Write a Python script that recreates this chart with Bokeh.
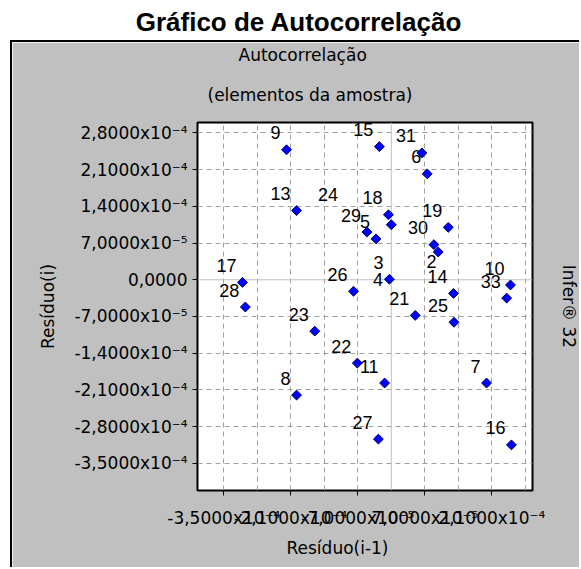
from bokeh.plotting import figure
from bokeh.models import (ColumnDataSource, FixedTicker, Span, Title, Div, CDSView,
                          BooleanFilter, Range1d, LinearAxis)
from bokeh.layouts import column
from bokeh.embed import file_html
from bokeh.resources import INLINE
from bokeh.core.properties import value

# ---------------- data (residuals, in original units) ----------------
rotulos = ["9", "15", "13", "24", "18", "", "29", "5", "17", "28", "26", "3", "4",
           "23", "22", "11", "8", "27", "31", "6", "19", "30", "", "10", "33",
           "14", "21", "25", "7", "16", "2"]
residuo_anterior = [-2.19e-4, -0.25e-4, -1.98e-4, -0.99e-4, -0.06e-4, 0.00e-4, -0.51e-4,
                    -0.32e-4, -3.11e-4, -3.05e-4, -0.79e-4, -0.04e-4, -0.05e-4,
                    -1.60e-4, -0.71e-4, -0.14e-4, -1.98e-4, -0.27e-4, 0.64e-4, 0.75e-4,
                    1.19e-4, 0.89e-4, 0.98e-4, 2.49e-4, 2.41e-4, 1.30e-4, 0.50e-4,
                    1.31e-4, 1.99e-4, 2.51e-4, 1.07e-4]
residuo_atual = [2.48e-4, 2.54e-4, 1.32e-4, 1.30e-4, 1.24e-4, 1.05e-4, 0.91e-4, 0.78e-4,
                 -0.05e-4, -0.52e-4, -0.22e-4, 0.01e-4, -0.32e-4, -0.98e-4, -1.59e-4,
                 -1.97e-4, -2.20e-4, -3.04e-4, 2.42e-4, 2.02e-4, 1.00e-4, 0.67e-4,
                 0.53e-4, -0.10e-4, -0.35e-4, -0.26e-4, -0.68e-4, -0.81e-4, -1.97e-4,
                 -3.15e-4, 0.02e-4]
marcador_visivel = [True, True, True, False, True, True, True, True, True, True, True,
                    True, False, True, True, True, True, True, True, True, True, True,
                    True, True, True, True, True, True, True, True, False]

x_ticks = [-3.5e-4, -2.1e-4, -0.7e-4, 0.7e-4, 2.1e-4]
x_tick_labels = ["-3,5000x10\u207b\u2074", "-2,1000x10\u207b\u2074", "-7,0000x10\u207b\u2075",
                 "7,0000x10\u207b\u2075", "2,1000x10\u207b\u2074"]
y_ticks = [2.8e-4, 2.1e-4, 1.4e-4, 0.7e-4, 0.0, -0.7e-4, -1.4e-4, -2.1e-4, -2.8e-4, -3.5e-4]
y_tick_labels = ["2,8000x10\u207b\u2074", "2,1000x10\u207b\u2074", "1,4000x10\u207b\u2074",
                 "7,0000x10\u207b\u2075", "0,0000", "-7,0000x10\u207b\u2075",
                 "-1,4000x10\u207b\u2074", "-2,1000x10\u207b\u2074", "-2,8000x10\u207b\u2074",
                 "-3,5000x10\u207b\u2074"]
x_grid = [-3.5e-4, -2.8e-4, -2.1e-4, -1.4e-4, -0.7e-4, 0.7e-4, 1.4e-4, 2.1e-4, 2.8e-4]
y_grid = [2.8e-4, 2.1e-4, 1.4e-4, 0.7e-4, -0.7e-4, -1.4e-4, -2.1e-4, -2.8e-4, -3.5e-4]

FONT = "DejaVu Sans"
GRAY = "#c0c0c0"

src = ColumnDataSource(dict(x=residuo_anterior, y=residuo_atual, rotulo=rotulos))

p = figure(width=569, height=527, output_backend="svg", toolbar_location=None,
           x_range=Range1d(-4.05e-4, 2.95e-4), y_range=Range1d(-4.02e-4, 3.0e-4),
           min_border_left=185, min_border_right=48, min_border_top=80,
           min_border_bottom=79, border_fill_color=GRAY, background_fill_color="white",
           outline_line_color="black", outline_line_width=2, margin=(0, 0, 0, 10))
p.styles = {"border-left": "2px solid black", "border-top": "2px solid black"}
p.title.text = ""

for ax, ticks, labels in ((p.xaxis, x_ticks, x_tick_labels), (p.yaxis, y_ticks, y_tick_labels)):
    ax.ticker = FixedTicker(ticks=ticks)
    ax.major_label_overrides = dict(zip(ticks, labels))
    ax.minor_tick_line_color = None
    ax.major_tick_in = 0
    ax.major_tick_out = 5
    ax.major_tick_line_color = "black"
    ax.axis_line_color = None
    ax.major_label_text_font = FONT
    ax.major_label_text_font_size = "17px"
    ax.major_label_text_color = "black"
p.yaxis.major_label_standoff = 5
p.xaxis.major_label_standoff = 12

# y axis label
p.yaxis.axis_label = "Resíduo(i)"
p.yaxis.axis_label_standoff = 13
p.yaxis.axis_label_text_font = FONT
p.yaxis.axis_label_text_font_size = "17px"
p.yaxis.axis_label_text_font_style = "normal"
p.yaxis.axis_label_text_color = "black"

# right-hand side text carried by a tick-less axis
lado = LinearAxis(ticker=FixedTicker(ticks=[]), axis_label="Infer® 32",
                  axis_label_standoff=26, axis_line_color=None, major_tick_line_color=None,
                  minor_tick_line_color=None, major_tick_out=0, major_label_standoff=0,
                  axis_label_text_font=FONT, axis_label_text_font_size="17px",
                  axis_label_text_font_style="normal", axis_label_text_color="black")
p.add_layout(lado, "right")

p.xgrid.ticker = FixedTicker(ticks=x_grid)
p.ygrid.ticker = FixedTicker(ticks=y_grid)
for g in (p.xgrid, p.ygrid):
    g.grid_line_color = "#a0a0a0"
    g.grid_line_dash = "5 4"
    g.grid_line_width = 1

p.add_layout(Span(location=0, dimension="height", line_color=GRAY, line_width=1, level="underlay"))
p.add_layout(Span(location=0, dimension="width", line_color=GRAY, line_width=1, level="underlay"))

p.text(x="x", y="y", text="rotulo", source=src, text_font=value("Liberation Sans"),
       text_font_size="18px", text_align="right", text_baseline="alphabetic",
       x_offset=-6, y_offset=-17, text_color="black")
p.scatter(x="x", y="y", source=src, view=CDSView(filter=BooleanFilter(marcador_visivel)),
          marker="square", angle=0.785, size=7, fill_color="#0000ff",
          line_color="#000066", line_width=1)

def mk_title(text, align="left", offset=0, standoff=10, valign="bottom"):
    return Title(text=text, align=align, offset=offset, standoff=standoff,
                 vertical_align=valign, text_font=FONT, text_font_size="17px",
                 text_font_style="normal", text_color="black")

p.add_layout(mk_title("(elementos da amostra)", offset=10, standoff=34, valign="middle"), "above")
p.add_layout(mk_title("Autocorrelação", offset=41, standoff=2, valign="middle"), "above")
p.add_layout(mk_title("Resíduo(i-1)", offset=89, standoff=10, valign="bottom"), "below")

titulo = Div(text='<div style="width:581px;height:40px;text-align:center;box-sizing:border-box;'
                  'padding-top:7px;font-family:\'Liberation Sans\';font-weight:bold;'
                  'font-size:26px;line-height:30px;color:black;">'
                  '<span style="position:relative;left:8px">'
                  'Gráfico de Autocorrelação</span></div>',
             width=581, height=40, margin=0)

layout = column(titulo, p, spacing=0)
open("out.html", "w").write(file_html(layout, INLINE))
